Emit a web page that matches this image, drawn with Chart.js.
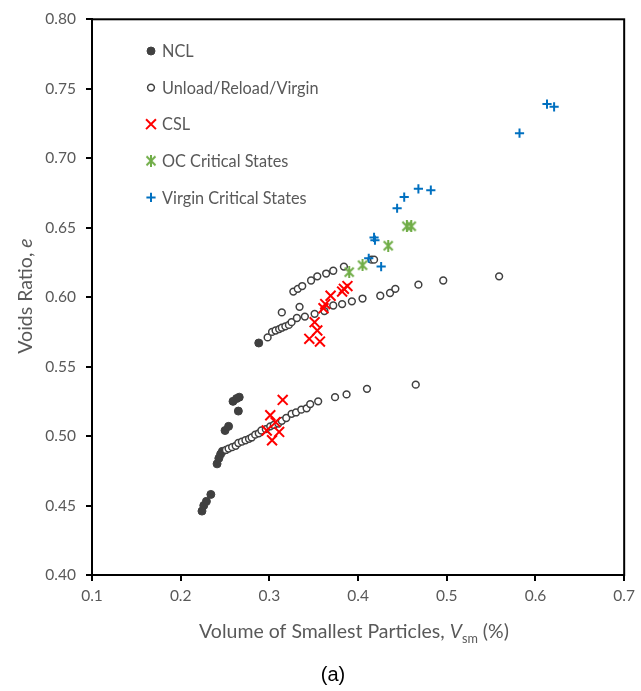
<!DOCTYPE html>
<html>
<head>
<meta charset="utf-8">
<script src="https://cdn.jsdelivr.net/npm/chart.js"></script>
<style>
  body { margin: 0; background: #fff; }
</style>
</head>
<body>
<canvas id="chart" width="641" height="691"></canvas>
<script>
// values: Vsm (%) and voids ratio e
const nclX = [0.224, 0.226, 0.229, 0.234, 0.241, 0.243, 0.245, 0.247, 0.250, 0.254, 0.265, 0.259, 0.263, 0.266, 0.288];
const nclY = [0.446, 0.450, 0.453, 0.458, 0.480, 0.484, 0.487, 0.489, 0.504, 0.507, 0.518, 0.525, 0.527, 0.528, 0.567];

const urvX = [0.251, 0.254, 0.258, 0.262, 0.265, 0.269, 0.273, 0.277, 0.280, 0.284, 0.288, 0.291, 0.296, 0.301,
  0.305, 0.310, 0.314, 0.319, 0.325, 0.330, 0.336, 0.342, 0.346, 0.355, 0.374, 0.387, 0.410, 0.465,
  0.298, 0.303, 0.307, 0.311, 0.314, 0.318, 0.322, 0.325, 0.331, 0.314, 0.334, 0.340, 0.351, 0.362,
  0.372, 0.382, 0.393, 0.405, 0.425, 0.436, 0.442, 0.468, 0.496, 0.559,
  0.327, 0.332, 0.337, 0.347, 0.354, 0.364, 0.372, 0.384, 0.415, 0.418];
const urvY = [0.490, 0.491, 0.492, 0.493, 0.495, 0.496, 0.497, 0.498, 0.499, 0.501, 0.502, 0.504, 0.505, 0.507,
  0.508, 0.509, 0.511, 0.513, 0.516, 0.517, 0.519, 0.520, 0.523, 0.525, 0.528, 0.530, 0.534, 0.537,
  0.571, 0.575, 0.576, 0.577, 0.578, 0.579, 0.580, 0.582, 0.585, 0.589, 0.593, 0.586, 0.588, 0.590,
  0.594, 0.595, 0.597, 0.599, 0.601, 0.603, 0.606, 0.609, 0.612, 0.615,
  0.604, 0.606, 0.608, 0.612, 0.615, 0.617, 0.619, 0.622, 0.627, 0.627];

const cslX = [0.315, 0.301, 0.307, 0.297, 0.311, 0.303, 0.345, 0.357, 0.354, 0.351, 0.361, 0.363, 0.369, 0.382, 0.388, 0.384];
const cslY = [0.526, 0.515, 0.510, 0.504, 0.503, 0.497, 0.570, 0.568, 0.576, 0.582, 0.592, 0.595, 0.601, 0.604, 0.608, 0.606];

const ocX = [0.390, 0.405, 0.434, 0.455, 0.460];
const ocY = [0.618, 0.623, 0.637, 0.651, 0.651];

const vcsX = [0.412, 0.426, 0.418, 0.419, 0.444, 0.452, 0.468, 0.482, 0.582, 0.613, 0.621];
const vcsY = [0.628, 0.622, 0.643, 0.641, 0.664, 0.672, 0.678, 0.677, 0.718, 0.739, 0.737];

const seriesNames = ['NCL', 'Unload/Reload/Virgin', 'CSL', 'OC Critical States', 'Virgin Critical States'];

const TEXT = '#595959';
const FONT = 'Lato';

function pts(xs, ys) {
  return xs.map((x, i) => ({ x: x, y: ys[i] }));
}

// Excel-like asterisk marker (X with a vertical stroke)
function asterisk(color) {
  const c = document.createElement('canvas');
  c.width = 12; c.height = 12;
  const g = c.getContext('2d');
  g.strokeStyle = color;
  g.lineWidth = 2;
  g.beginPath();
  g.moveTo(1.5, 1.5); g.lineTo(10.5, 10.5);
  g.moveTo(10.5, 1.5); g.lineTo(1.5, 10.5);
  g.moveTo(6, 0); g.lineTo(6, 12);
  g.stroke();
  return c;
}
const ocMarker = asterisk('#70ad47');

const datasets = [
  { label: seriesNames[0], data: pts(nclX, nclY), pointStyle: 'circle', pointRadius: 4,
    backgroundColor: '#404040', borderColor: '#404040', borderWidth: 1, order: 5 },
  { label: seriesNames[1], data: pts(urvX, urvY), pointStyle: 'circle', pointRadius: 3.4,
    backgroundColor: '#ffffff', borderColor: '#404040', borderWidth: 1.5, order: 4 },
  { label: seriesNames[2], data: pts(cslX, cslY), pointStyle: 'crossRot', pointRadius: 7,
    backgroundColor: '#ff0000', borderColor: '#ff0000', borderWidth: 2, order: 3 },
  { label: seriesNames[3], data: pts(ocX, ocY), pointStyle: ocMarker, pointRadius: 6,
    backgroundColor: '#70ad47', borderColor: '#70ad47', borderWidth: 2, order: 2 },
  { label: seriesNames[4], data: pts(vcsX, vcsY), pointStyle: 'cross', pointRadius: 4.6,
    backgroundColor: '#0070c0', borderColor: '#0070c0', borderWidth: 2, order: 1 }
];

function drawMarker(ctx, ds, x, y) {
  const s = ds.pointStyle, r = ds.pointRadius;
  ctx.save();
  ctx.strokeStyle = ds.borderColor;
  ctx.fillStyle = ds.backgroundColor;
  ctx.lineWidth = ds.borderWidth;
  ctx.beginPath();
  if (s === 'circle') {
    ctx.arc(x, y, r, 0, Math.PI * 2);
    ctx.fill();
    ctx.stroke();
  } else if (s === 'cross') {
    ctx.moveTo(x - r, y); ctx.lineTo(x + r, y);
    ctx.moveTo(x, y - r); ctx.lineTo(x, y + r);
    ctx.stroke();
  } else if (s === 'crossRot') {
    const d = r * Math.SQRT1_2;
    ctx.moveTo(x - d, y - d); ctx.lineTo(x + d, y + d);
    ctx.moveTo(x + d, y - d); ctx.lineTo(x - d, y + d);
    ctx.stroke();
  } else {
    ctx.drawImage(s, x - s.width / 2, y - s.height / 2);
  }
  ctx.restore();
}

// draws a run of text pieces {t, italic, sub}, centred at x
function drawRich(ctx, parts, x, y, size) {
  const fontOf = p => (p.italic ? 'italic ' : '') + (p.sub ? size * 0.65 : size) + 'px ' + FONT;
  let total = 0;
  parts.forEach(p => { ctx.font = fontOf(p); total += ctx.measureText(p.t).width; });
  let cx = x - total / 2;
  parts.forEach(p => {
    ctx.font = fontOf(p);
    ctx.fillText(p.t, cx, p.sub ? y + size * 0.25 : y);
    cx += ctx.measureText(p.t).width;
  });
}

const decorations = {
  id: 'decorations',
  afterDraw(chart) {
    const ctx = chart.ctx;
    const a = chart.chartArea;
    ctx.save();
    // frame
    ctx.strokeStyle = '#000';
    ctx.lineWidth = 2;
    ctx.strokeRect(a.left, a.top, a.right - a.left, a.bottom - a.top);

    // legend inside the plot
    ctx.textBaseline = 'middle';
    ctx.textAlign = 'left';
    chart.data.datasets.forEach((ds, i) => {
      const y = 51 + i * 36.6;
      drawMarker(ctx, ds, 151, y);
      ctx.fillStyle = TEXT;
      ctx.font = '16.3px ' + FONT;
      ctx.fillText(ds.label, 162, y + 1);
    });

    // axis titles
    ctx.textBaseline = 'alphabetic';
    ctx.fillStyle = TEXT;
    drawRich(ctx, [
      { t: 'Volume of Smallest Particles, ' },
      { t: 'V', italic: true },
      { t: 'sm', sub: true },
      { t: ' (%)' }
    ], 354, 638, 19.5);

    ctx.save();
    ctx.translate(32, 296);
    ctx.rotate(-Math.PI / 2);
    drawRich(ctx, [{ t: 'Voids Ratio, ' }, { t: 'e', italic: true }], 0, 0, 19.5);
    ctx.restore();

    ctx.fillStyle = '#000';
    ctx.textAlign = 'center';
    ctx.font = '20px "Liberation Sans", Arial, sans-serif';
    ctx.fillText('(a)', 333, 681);
    ctx.restore();
  }
};

new Chart(document.getElementById('chart'), {
  type: 'scatter',
  data: { datasets: datasets },
  options: {
    responsive: false,
    animation: false,
    devicePixelRatio: 1,
    layout: { padding: { top: 15, right: 11, left: 0, bottom: 0 } },
    plugins: { legend: { display: false }, tooltip: { enabled: false } },
    scales: {
      x: {
        type: 'linear', min: 0.1, max: 0.7,
        afterFit: s => { s.height = 116; },
        grid: { drawOnChartArea: false, drawTicks: true, tickLength: 6, color: '#000', lineWidth: 2 },
        border: { display: true, color: '#000', width: 2 },
        ticks: { stepSize: 0.1, padding: 6, color: TEXT, font: { family: FONT, size: 15.5 },
          callback: v => v.toFixed(1) }
      },
      y: {
        type: 'linear', min: 0.4, max: 0.8,
        afterFit: s => { s.width = 92; },
        grid: { drawOnChartArea: false, drawTicks: true, tickLength: 6, color: '#000', lineWidth: 2 },
        border: { display: true, color: '#000', width: 2 },
        ticks: { stepSize: 0.05, padding: 10, color: TEXT, font: { family: FONT, size: 15.5 },
          callback: v => v.toFixed(2) }
      }
    }
  },
  plugins: [decorations]
});
</script>
</body>
</html>
